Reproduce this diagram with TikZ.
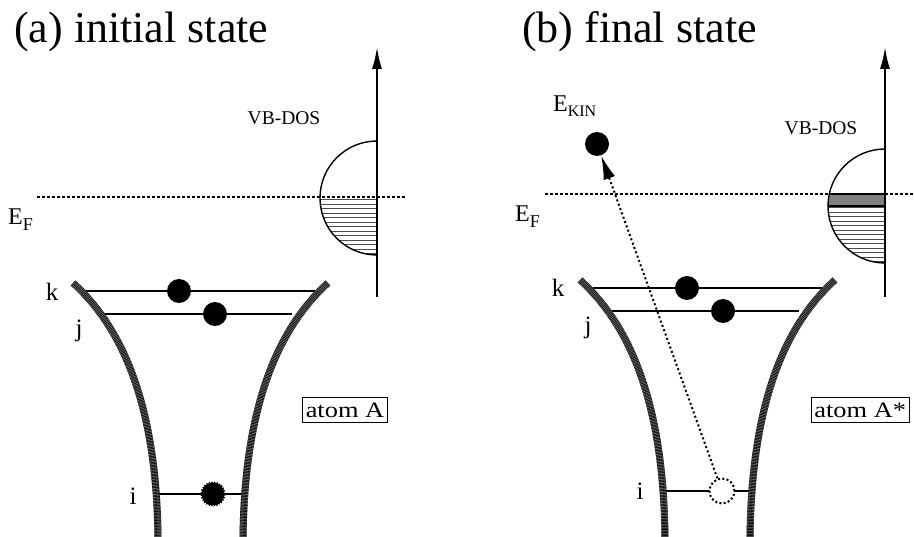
\documentclass[tikz,border=0pt]{standalone}
\usepackage{fontspec}
\setmainfont{Liberation Serif}
\newfontfamily\boxfont[FakeStretch=1.2]{Liberation Serif}
\usetikzlibrary{arrows.meta}
\begin{document}
\begin{tikzpicture}[x=1pt,y=-1pt,
  wallbase/.style={line width=7pt, black},
  wallstripe/.style={line width=7pt, black!55, dash pattern=on 0.6pt off 0.9pt},
  level/.style={line width=2.2pt},
  electron/.style={circle, fill=black, minimum size=24pt, inner sep=0pt},
  fuzzy/.style={circle, fill=black, draw=black, line width=2pt, dash pattern=on 1.3pt off 1.3pt, minimum size=23pt, inner sep=0pt},
  hole/.style={circle, fill=white, draw=black, line width=2pt, dash pattern=on 2pt off 2.3pt, minimum size=25pt, inner sep=0pt},
  axis/.style={line width=2pt, -{Latex[length=22pt,width=10pt]}},
  fermi/.style={line width=2.8pt, dash pattern=on 3pt off 2pt},
  hatch/.style={line width=0.9pt, black!70},
  dos/.style={line width=1.4pt},
  emit/.style={line width=2pt, dash pattern=on 2pt off 2.6pt, -{Latex[length=24pt,width=12pt]}},
  lbl/.style={font=\fontsize{25}{25}\selectfont, anchor=base, inner sep=0pt},
  title/.style={font=\fontsize{44}{44}\selectfont, anchor=base west, inner sep=0pt},
  vbdos/.style={font=\fontsize{19.5}{19.5}\selectfont, inner sep=0pt},
  ef/.style={font=\fontsize{24}{24}\selectfont, anchor=base west, inner sep=0pt},
  atombox/.style={draw, line width=0.8pt, font=\boxfont\fontsize{22}{22}\selectfont, minimum height=25pt, inner xsep=3pt, inner ysep=0pt},
]
\useasboundingbox (0,0) rectangle (914,537);

% ---------------- titles ----------------
\node[title] (ta) at (14,43) {(a) initial state};
\node[title] (tb) at (522,43) {(b) final state};

% ================= panel (a) =================
% DOS
\begin{scope}
  \clip (377,198) circle (57);
  \foreach \yy in {199.5,204,...,256} \draw[hatch] (315,\yy) -- (378,\yy);
\end{scope}
\draw[dos] (377,141) arc (270:90:57);
\coordinate (LaxB) at (377,297);
\coordinate (LaxT) at (377,47);
\draw[axis] (LaxB) -- (LaxT);
\coordinate (LF1) at (37,197);
\coordinate (LF2) at (405,197);
\draw[fermi] (LF1) -- (LF2);
\node[ef] (LEF) at (8,225) {E\raisebox{-6pt}{\fontsize{18}{18}\selectfont F}};
\node[vbdos] (Lvb) at (284,118) {VB-DOS};

% levels
\coordinate (Lk1) at (86,291); \coordinate (Lk2) at (315,291);
\coordinate (Lj1) at (103,314); \coordinate (Lj2) at (292,314);
\coordinate (Li1) at (155,494); \coordinate (Li2) at (246,494);
\draw[level] (Lk1) -- (Lk2);
\draw[level] (Lj1) -- (Lj2);
\draw[level] (Li1) -- (Li2);
% walls
\draw[wallbase] (73,283) .. controls (125,330) and (157,410) .. (158,540);
\draw[wallstripe] (73,283) .. controls (125,330) and (157,410) .. (158,540);
\draw[wallbase] (328,283) .. controls (276,330) and (244,410) .. (243,540);
\draw[wallstripe] (328,283) .. controls (276,330) and (244,410) .. (243,540);
% electrons
\node[electron] (Lek) at (179,291) {};
\node[electron] (Lej) at (215,314) {};
\node[fuzzy] (Lei) at (213,494) {};
% labels
\node[lbl] (Lk) at (52,301) {k};
\node[lbl] (Lj) at (79,337) {j};
\node[lbl] (Li) at (133,504) {i};
\node[atombox] (LA) at (345,410) {atom A};

% ================= panel (b) =================
\begin{scope}
  \clip (885,206) circle (57);
  \foreach \yy in {207.5,212,...,264} \draw[hatch] (823,\yy) -- (886,\yy);
  \filldraw[fill=black!50, draw=black, line width=1.2pt] (826,194) rectangle (885,206);
\end{scope}
\draw[dos] (885,149) arc (270:90:57);
\coordinate (RaxB) at (885,297);
\coordinate (RaxT) at (885,47);
\draw[axis] (RaxB) -- (RaxT);
\coordinate (RF1) at (545,194);
\coordinate (RF2) at (914,194);
\draw[fermi] (RF1) -- (RF2);
\node[ef] (REF) at (515,222) {E\raisebox{-6pt}{\fontsize{18}{18}\selectfont F}};
\node[vbdos] (Rvb) at (821,128) {VB-DOS};

% levels
\coordinate (Rk1) at (593,288); \coordinate (Rk2) at (822,288);
\coordinate (Rj1) at (610,311); \coordinate (Rj2) at (799,311);
\coordinate (Ri1) at (662,491); \coordinate (Ri2) at (753,491);
\draw[level] (Rk1) -- (Rk2);
\draw[level] (Rj1) -- (Rj2);
\draw[level] (Ri1) -- (Ri2);
% walls
\draw[wallbase] (580,280) .. controls (632,327) and (664,407) .. (665,540);
\draw[wallstripe] (580,280) .. controls (632,327) and (664,407) .. (665,540);
\draw[wallbase] (835,280) .. controls (783,327) and (751,407) .. (750,540);
\draw[wallstripe] (835,280) .. controls (783,327) and (751,407) .. (750,540);
% electrons
\node[electron] (Rek) at (687,288) {};
\node[electron] (Rej) at (723,311) {};
\node[hole] (Rhole) at (722,491) {};
\node[electron] (Rkin) at (597,144) {};
\draw[emit] (Rhole) -- (Rkin);
\node[ef] (Ekin) at (553,112) {E\raisebox{-5pt}{\fontsize{16}{16}\selectfont KIN}};
% labels
\node[lbl] (Rk) at (558,297) {k};
\node[lbl] (Rj) at (588,334) {j};
\node[lbl] (Ri) at (640,500) {i};
\node[atombox, anchor=west] (RA) at (811,410) {atom A*};
\end{tikzpicture}
\end{document}
